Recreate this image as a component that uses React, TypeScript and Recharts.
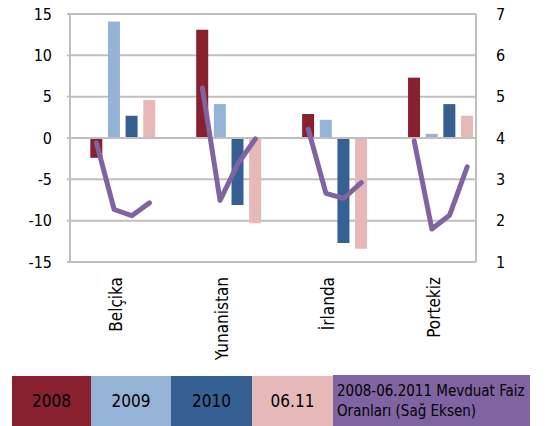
import React from "react";
import { ComposedChart, Bar, Line, XAxis, YAxis, CartesianGrid, ReferenceLine, Cell } from "recharts";

const countries = ["Belçika", "Yunanistan", "İrlanda", "Portekiz"];
const periods = ["2008", "2009", "2010", "06.11"];
const growth2008 = [-2.4, 13.1, 2.9, 7.3];
const growth2009 = [14.1, 4.1, 2.2, 0.5];
const growth2010 = [2.7, -8.1, -12.7, 4.1];
const growth0611 = [4.6, -10.3, -13.4, 2.7];
const rateBelcika = [3.88, 2.27, 2.12, 2.43];
const rateYunanistan = [5.21, 2.49, 3.37, 3.98];
const rateIrlanda = [4.21, 2.66, 2.54, 2.92];
const ratePortekiz = [3.93, 1.8, 2.13, 3.3];
const leftTicks = [-15, -10, -5, 0, 5, 10, 15];
const rightTicks = [1, 2, 3, 4, 5, 6, 7];
const lineLegend = ["2008-06.2011 Mevduat Faiz", "Oranları (Sağ Eksen)"];

const periodColors = ["#88202F", "#95B3D7", "#376092", "#E6B9B8"];
const lineColor = "#8064A2";
const gridColor = "#BFBFBF";
const FONT = "'DejaVu Sans Condensed', 'DejaVu Sans', sans-serif";

const growthByPeriod = [growth2008, growth2009, growth2010, growth0611];
const ratesByCountry = [rateBelcika, rateYunanistan, rateIrlanda, ratePortekiz];

type Row = { slot: string; period?: number; value?: number | null; rate?: number | null; label?: string };
const rows: Row[] = [{ slot: "start", value: null, rate: null }];
countries.forEach((c, ci) => {
  periods.forEach((p, pi) => {
    rows.push({
      slot: `${c}-${p}`,
      period: pi,
      value: growthByPeriod[pi][ci],
      rate: ratesByCountry[ci][pi],
      label: pi === 1 ? c : undefined,
    });
  });
  if (ci < countries.length - 1) {
    rows.push({ slot: `gap${ci}a`, value: null, rate: null });
    rows.push({ slot: `gap${ci}b`, value: null, rate: null });
  }
});
const labelBySlot: Record<string, string> = {};
rows.forEach((r) => {
  if (r.label) labelBySlot[r.slot] = r.label;
});

const XTick = (props: any) => {
  const { x, y, payload } = props;
  const label = labelBySlot[payload?.value];
  if (!label) return null;
  return (
    <text
      x={x}
      y={y}
      dy={8}
      transform={`rotate(-90, ${x}, ${y})`}
      textAnchor="end"
      fontFamily={FONT}
      fontSize={17}
      fill="#000"
    >
      {label}
    </text>
  );
};

const boxStyle = (bg: string, w: number): React.CSSProperties => ({
  width: w,
  height: 50,
  background: bg,
  display: "flex",
  alignItems: "center",
  justifyContent: "center",
  fontFamily: FONT,
  fontSize: 17,
  color: "#000",
  boxSizing: "border-box",
});

export default function App() {
  const widths = [79, 80, 81, 81];
  return (
    <div style={{ position: "absolute", left: 0, top: 0, width: 551, height: 426, background: "#fff", overflow: "hidden" }}>
      <ComposedChart
        width={551}
        height={376}
        data={rows}
        margin={{ top: 14, right: 0, bottom: 0, left: 0 }}
        barCategoryGap="15%"
      >
        <CartesianGrid yAxisId="left" vertical={false} stroke={gridColor} strokeWidth={2} />
        <XAxis
          dataKey="slot"
          type="category"
          interval={0}
          height={114}
          axisLine={false}
          tickLine={false}
          tickSize={0}
          tickMargin={15}
          tick={<XTick />}
        />
        <YAxis
          yAxisId="left"
          orientation="left"
          domain={[-15, 15]}
          ticks={leftTicks}
          interval={0}
          width={70}
          axisLine={{ stroke: gridColor, strokeWidth: 2 }}
          tickLine={{ stroke: gridColor, strokeWidth: 2 }}
          tickSize={3}
          tickMargin={15}
          tick={{ fontFamily: FONT, fontSize: 16, fill: "#000" }}
        />
        <YAxis
          yAxisId="right"
          orientation="right"
          domain={[1, 7]}
          ticks={rightTicks}
          interval={0}
          width={75}
          axisLine={{ stroke: gridColor, strokeWidth: 2 }}
          tickLine={false}
          tickSize={0}
          tickMargin={20}
          tick={{ fontFamily: FONT, fontSize: 16, fill: "#000" }}
        />
        <ReferenceLine yAxisId="left" y={0} stroke={gridColor} strokeWidth={2} />
        <Bar yAxisId="left" dataKey="value" isAnimationActive={false}>
          {rows.map((r, i) => (
            <Cell key={i} fill={r.period != null ? periodColors[r.period] : "none"} />
          ))}
        </Bar>
        <Line
          yAxisId="right"
          dataKey="rate"
          stroke={lineColor}
          strokeWidth={5}
          strokeLinecap="round"
          strokeLinejoin="round"
          dot={false}
          activeDot={false}
          connectNulls={false}
          isAnimationActive={false}
        />
      </ComposedChart>
      <div style={{ position: "absolute", left: 12, top: 376, display: "flex" }}>
        {periods.map((p, i) => (
          <div key={p} style={boxStyle(periodColors[i], widths[i])}>
            {p}
          </div>
        ))}
        <div
          style={{
            width: 197,
            height: 51,
            marginTop: -1,
            background: lineColor,
            fontFamily: FONT,
            fontSize: 15,
            lineHeight: "20px",
            color: "#000",
            padding: "6px 0 0 4px",
            boxSizing: "border-box",
          }}
        >
          {lineLegend.map((t) => (
            <div key={t}>{t}</div>
          ))}
        </div>
      </div>
    </div>
  );
}
